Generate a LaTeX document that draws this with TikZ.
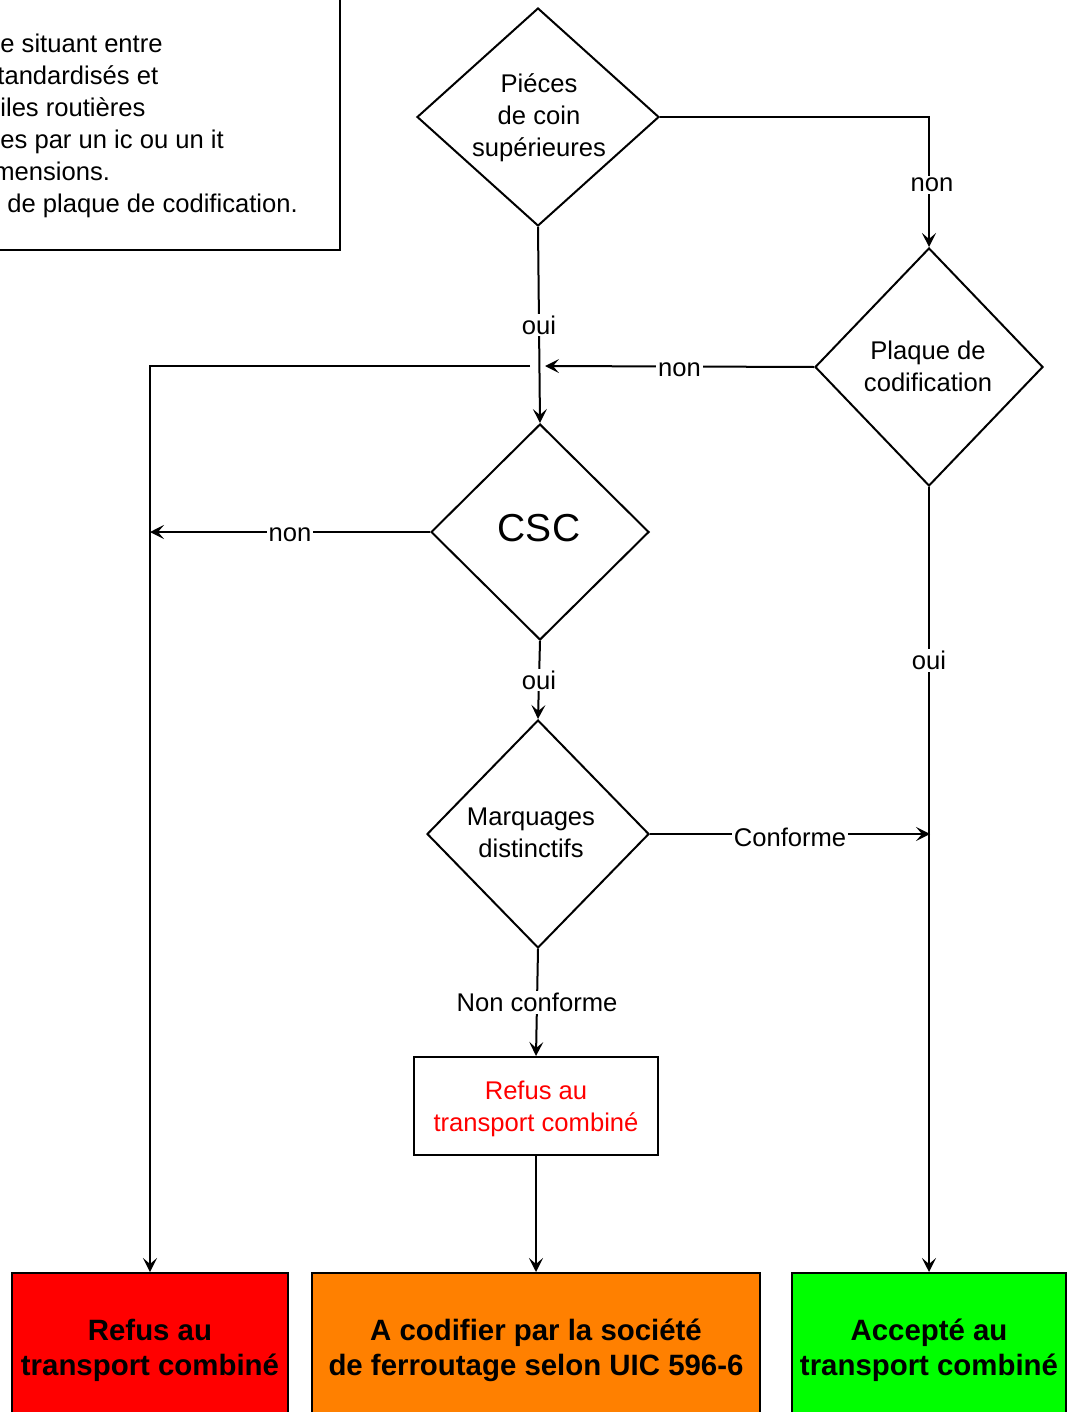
\documentclass[tikz,border=0pt]{standalone}
\usepackage{fontspec}
\setmainfont{Liberation Sans}
\usetikzlibrary{shapes.geometric,arrows.meta}
\definecolor{cred}{HTML}{FF0000}
\definecolor{corange}{HTML}{FF8000}
\definecolor{cgreen}{HTML}{00FF00}
\begin{document}
\begin{tikzpicture}[x=0.5pt,y=-0.5pt,
  every node/.style={font=\fontsize{12.8}{16}\selectfont},
  dec/.style={diamond, draw, line width=1pt, inner sep=0pt, align=center},
  conn/.style={line width=1pt},
  arr/.style={conn, -{Stealth[length=7pt,width=7pt,inset=3pt]}},
  lbl/.style={fill=white, inner sep=1pt},
  hlbl/.style={lbl, yshift=-1.5pt},
  final/.style={draw, line width=1pt, minimum height=77.5pt, inner sep=0pt, align=center,
    font=\bfseries\fontsize{14.7}{17.5}\selectfont},
  txtline/.style={anchor=base west, inner sep=0pt}
]
\useasboundingbox (0,0) rectangle (1073,1412);
\clip (0,0) rectangle (1073,1412);
\fill[white] (0,0) rectangle (1073,1412);

% top-left note box
\draw[conn] (-20,-20) rectangle (340,250);
\node[txtline] (n1) at (0,53) {e situant entre};
\node[txtline] (n2) at (-3,85) {tandardisés et};
\node[txtline] (n3) at (0,117) {iles routières};
\node[txtline] (n4) at (0,149) {es par un ic ou un it};
\node[txtline] (n5) at (-7,181) {mensions.};
\node[txtline] (n6) at (7,213) {de plaque de codification.};

% decisions
\node[dec, minimum width=121pt, minimum height=109pt] (d1) at (538,117) {};
\node[align=center] (d1t) at (539,118) {Piéces\\de coin\\supérieures};
\node[dec, minimum width=114pt, minimum height=119pt] (d2) at (929,367) {};
\node[align=center] (d2t) at (928,366) {Plaque de\\codification};
\node[dec, minimum width=109pt, minimum height=108pt] (csc) at (540,532) {};
\node[font=\fontsize{19.5}{22}\selectfont] (csct) at (539,528) {CSC};
\node[dec, minimum width=111pt, minimum height=114pt] (d4) at (538,834) {};
\node[align=center] (d4t) at (531,833) {Marquages\\distinctifs};
\node[draw, line width=1pt, minimum width=122pt, minimum height=49pt] (refus) at (536,1106) {};
\node[text=cred, align=center] (refust) at (536,1109) {Refus au\\transport combiné};

% final boxes
\node[final, fill=cred, minimum width=138pt] (red) at (150,1350.5) {Refus au\\transport combiné};
\node[final, fill=corange, minimum width=224pt] (orange) at (536,1350.5) {A codifier par la société\\de ferroutage selon UIC 596-6};
\node[final, fill=cgreen, minimum width=137pt] (green) at (929,1350.5) {Accepté au\\transport combiné};

% junction points
\coordinate (j1) at (545,366);
\coordinate (j2) at (530,366);
\coordinate (j3) at (150,532);
\coordinate (j4) at (930,834);

% connectors
\draw[arr] (d1.east) -| node[hlbl, pos=0.75, xshift=1.5pt] {non} (d2.north);
\draw[arr] (d1.south) -- node[lbl] {oui} (csc.north);
\draw[arr] (d2.west) -- node[hlbl] {non} (j1);
\draw[arr] (j2) -| (red.north);
\draw[arr] (csc.west) -- node[hlbl] {non} (j3);
\draw[arr] (csc.south) -- node[lbl] {oui} (d4.north);
\draw[arr] (d2.south) -- node[lbl, pos=0.221] {oui} (green.north);
\draw[arr] (d4.east) -- node[hlbl] {Conforme} (j4);
\draw[arr] (d4.south) -- node[lbl] {Non conforme} (refus.north);
\draw[arr] (refus.south) -- (orange.north);
\end{tikzpicture}
\end{document}
